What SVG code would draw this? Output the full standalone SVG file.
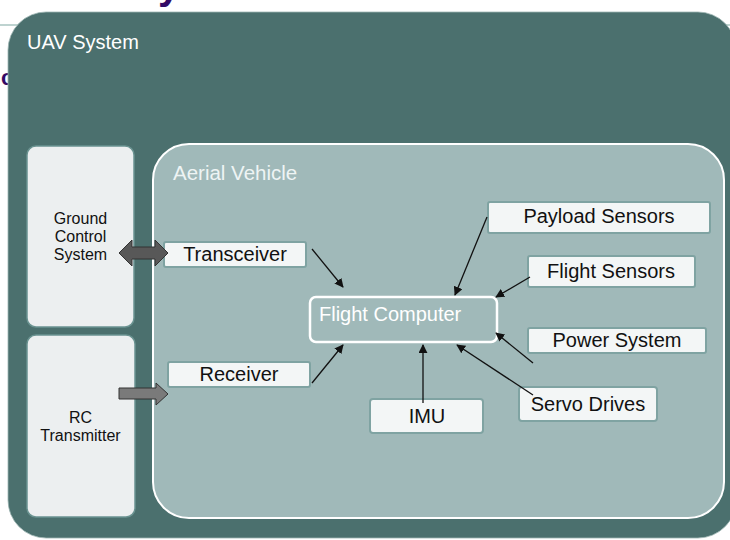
<svg xmlns="http://www.w3.org/2000/svg" width="730" height="540" viewBox="0 0 730 540">
  <defs>
    <style>
      text { font-family: "Liberation Sans", Arial, sans-serif; }
      .node { fill: #F3F6F6; stroke: #7FA3A2; stroke-width: 2; }
      .lbl { font-size: 20px; fill: #111; text-anchor: middle; }
      .side { fill: #ECEFF0; stroke: #6A9391; stroke-width: 1.5; }
      .sidelbl { font-size: 16px; fill: #111; text-anchor: middle; }
      .conn { stroke: #111; stroke-width: 1.3; fill: none; marker-end: url(#ah); }
      .title { font-weight: bold; fill: #330a66; }
    </style>
    <marker id="ah" viewBox="0 0 10 10" refX="9" refY="5" markerWidth="9" markerHeight="9" markerUnits="userSpaceOnUse" orient="auto">
      <path d="M0,0 L10,5 L0,10 z" fill="#111"/>
    </marker>
  </defs>

  <rect x="0" y="0" width="730" height="540" fill="#FFFFFF"/>
  <text class="title" x="158" y="-1" font-size="40">y</text>
  <text class="title" x="1" y="85" font-size="22">c</text>
  <line x1="0" y1="25" x2="730" y2="25" stroke="#A8C4C0" stroke-width="1.5"/>

  <g id="uav-system">
    <rect x="8" y="12" width="728" height="526" rx="38" ry="38" fill="#4B706E" stroke="#9DB5B3" stroke-width="0.8"/>
    <text x="27" y="49" font-size="20" fill="#FFFFFF">UAV System</text>
  </g>

  <g id="ground-control-system">
    <rect class="side" x="27" y="146" width="107" height="181" rx="9" ry="9"/>
    <text class="sidelbl" x="80.5" y="224">Ground</text>
    <text class="sidelbl" x="80.5" y="242">Control</text>
    <text class="sidelbl" x="80.5" y="260">System</text>
  </g>

  <g id="rc-transmitter">
    <rect class="side" x="27" y="335" width="108" height="182" rx="9" ry="9"/>
    <text class="sidelbl" x="80.5" y="423">RC</text>
    <text class="sidelbl" x="80.5" y="441">Transmitter</text>
  </g>

  <g id="aerial-vehicle">
    <rect x="153" y="144" width="571" height="374" rx="36" ry="36" fill="#A0B9B9" stroke="#FFFFFF" stroke-width="2"/>
    <text x="173" y="180" font-size="20.5" fill="#EEF4F4">Aerial Vehicle</text>
  </g>

  <g id="transceiver">
    <rect class="node" x="164" y="242" width="142" height="25" rx="2"/>
    <text class="lbl" x="235" y="261">Transceiver</text>
  </g>

  <g id="receiver">
    <rect class="node" x="168" y="362" width="142" height="25" rx="2"/>
    <text class="lbl" x="239" y="381">Receiver</text>
  </g>

  <g id="flight-computer">
    <rect x="310" y="297" width="187" height="45" rx="6" ry="6" fill="#A0B9B9" stroke="#FFFFFF" stroke-width="2.5"/>
    <text x="319" y="321" font-size="20" fill="#FFFFFF">Flight Computer</text>
  </g>

  <g id="payload-sensors">
    <rect class="node" x="488" y="202" width="222" height="31" rx="2"/>
    <text class="lbl" x="599" y="223">Payload Sensors</text>
  </g>

  <g id="flight-sensors">
    <rect class="node" x="528" y="256" width="167" height="31" rx="2"/>
    <text class="lbl" x="611" y="278">Flight Sensors</text>
  </g>

  <g id="power-system">
    <rect class="node" x="528" y="328" width="178" height="25" rx="2"/>
    <text class="lbl" x="617" y="347">Power System</text>
  </g>

  <g id="servo-drives">
    <rect class="node" x="519" y="387" width="138" height="34" rx="3" stroke="#6F9795" stroke-width="2.5"/>
    <text class="lbl" x="588" y="411">Servo Drives</text>
  </g>

  <g id="imu">
    <rect class="node" x="370" y="399" width="113" height="34" rx="3" stroke="#5E8886" stroke-width="2.5"/>
    <text class="lbl" x="427" y="423">IMU</text>
  </g>

  <g id="connectors">
    <path d="M119,253 L132,240 L132,247 L155,247 L155,240 L168,253 L155,266 L155,259 L132,259 L132,266 Z" fill="#585858" stroke="#333" stroke-width="1"/>
    <path d="M119,388 L156,388 L156,383 L168,394 L156,405 L156,399 L119,399 Z" fill="#7A7A7A" stroke="#333" stroke-width="1"/>
    <line class="conn" x1="312" y1="249" x2="343" y2="287"/>
    <line class="conn" x1="312" y1="383" x2="343" y2="345"/>
    <line class="conn" x1="487" y1="217" x2="455" y2="295"/>
    <line class="conn" x1="530" y1="277" x2="496" y2="297"/>
    <line class="conn" x1="533" y1="363" x2="496" y2="333"/>
    <line class="conn" x1="533" y1="395" x2="457" y2="345"/>
    <line class="conn" x1="423" y1="403" x2="423" y2="345"/>
  </g>
</svg>
